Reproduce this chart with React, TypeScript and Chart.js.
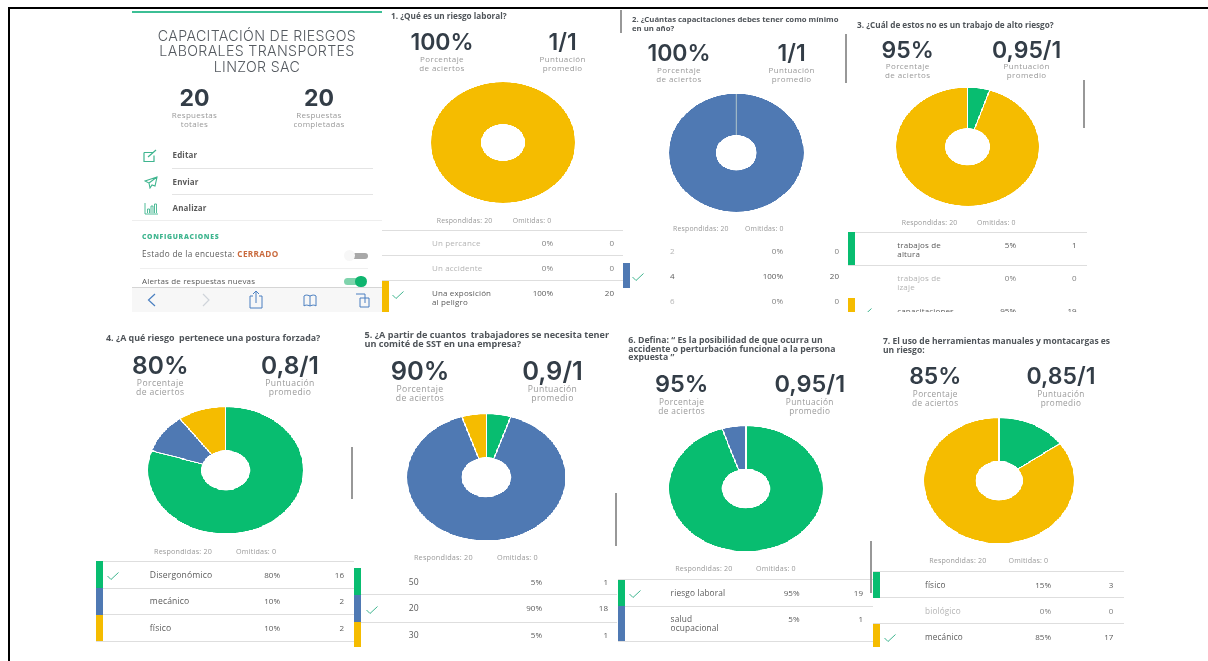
import React, { useEffect, useRef } from "react";
import { Chart, registerables } from "chart.js";

Chart.register(...registerables);

const GREEN = "#08bd70";
const BLUE = "#4f79b3";
const YELLOW = "#f5bc00";
const SLOT_COLORS = [GREEN, BLUE, YELLOW];

const SURVEY_TITLE = ["CAPACITACIÓN DE RIESGOS", "LABORALES TRANSPORTES", "LINZOR SAC"];
const TOTAL_RESPONSES = "20";
const COMPLETED_RESPONSES = "20";

const questionTitles = [
  ["1. ¿Qué es un riesgo laboral?"],
  ["2. ¿Cuántas capacitaciones debes tener como mínimo", "en un año?"],
  ["3. ¿Cuál de estos no es un trabajo de alto riesgo?"],
  ["4. ¿A qué riesgo  pertenece una postura forzada?"],
  ["5. ¿A partir de cuantos  trabajadores se necesita tener", "un comité de SST en una empresa?"],
  ["6. Defina: “ Es la posibilidad de que ocurra un", "accidente o perturbación funcional a la persona", "expuesta ”"],
  ["7. El uso de herramientas manuales y montacargas es", "un riesgo:"],
];
const correctRates = ["100%", "100%", "95%", "80%", "90%", "95%", "85%"];
const averageScores = ["1/1", "1/1", "0,95/1", "0,8/1", "0,9/1", "0,95/1", "0,85/1"];

const rowLabels = [
  ["Un percance", "Un accidente", "Una exposición\nal peligro"],
  ["2", "4", "6"],
  ["trabajos de\naltura", "trabajos de\nizaje", "capacitaciones"],
  ["Disergonómico", "mecánico", "físico"],
  ["50", "20", "30"],
  ["riesgo laboral", "salud\nocupacional"],
  ["físico", "biológico", "mecánico"],
];
const rowPercents = [
  ["0%", "0%", "100%"],
  ["0%", "100%", "0%"],
  ["5%", "0%", "95%"],
  ["80%", "10%", "10%"],
  ["5%", "90%", "5%"],
  ["95%", "5%"],
  ["15%", "0%", "85%"],
];
const rowCounts = [
  [0, 0, 20],
  [0, 20, 0],
  [1, 0, 19],
  [16, 2, 2],
  [1, 18, 1],
  [19, 1],
  [3, 0, 17],
];
const correctRow = [2, 1, 2, 0, 1, 0, 2];
const seamCharts = [1];

// Placement of each panel on the page.
const layout = [
  { ts: 8.2, bs: 23, ss: 8, rs: 6.9, cx: 503, cy: 142.7, rx: 72, ry: 60.5, tx: 391, ty: [16], px: 442, sx: 562.7, sy: 42, ly: 59, ry0: 220.5, rx0: 436.7, ox: 512.7, edges: [230, 255.5, 281, 312], rows: [243.3, 268.3, 293], lines: [230.5, 255.5, 280.5], lx1: 382, lx2: 623, lab: 432, pr: 553, cr: 614, bx: 382, ck: 398 },
  { ts: 7.75, bs: 23, ss: 8, rs: 6.9, cx: 736, cy: 152.5, rx: 67.3, ry: 58.8, tx: 632, ty: [20, 28.5], px: 679, sx: 791.7, sy: 53, ly: 70, ry0: 228.7, rx0: 673, ox: 745, edges: [238, 263, 288, 313], rows: [250.5, 275.5, 300.5], lines: [], lx1: 623, lx2: 840, lab: 670, pr: 783, cr: 839, bx: 623, ck: 638 },
  { ts: 8.2, bs: 23, ss: 8, rs: 6.9, cx: 967.3, cy: 147, rx: 71.3, ry: 58.8, tx: 857, ty: [24.5], px: 907.7, sx: 1026.7, sy: 49.5, ly: 66, ry0: 222.7, rx0: 901.7, ox: 977, edges: [232, 265, 298, 312], rows: [244.5, 277.5, 310.5], lines: [232.5, 265], lx1: 848, lx2: 1087, lab: 897.3, pr: 1016, cr: 1076.7, bx: 848, ck: 866 },
  { ts: 8.9, bs: 24.5, ss: 8.6, rs: 7.2, cx: 225.6, cy: 470.2, rx: 77.4, ry: 63.2, tx: 106, ty: [338.3], px: 160.3, sx: 290, sy: 365, ly: 382.7, ry0: 551.7, rx0: 154, ox: 236, edges: [561.3, 588, 614.7, 641.3], rows: [574.7, 601.3, 628], lines: [561.3, 588, 614.7, 641.3], lx1: 96, lx2: 354, lab: 149.8, pr: 280, cr: 344, bx: 96, ck: 113 },
  { ts: 9.1, bs: 25.5, ss: 8.6, rs: 7.3, cx: 486.5, cy: 476.8, rx: 79, ry: 63.2, tx: 364.5, ty: [335, 344.3], px: 420, sx: 552.5, sy: 370.7, ly: 388.7, ry0: 558.3, rx0: 413.9, ox: 497, edges: [568.3, 594.7, 622, 647], rows: [581.7, 608.3, 635.3], lines: [594.7, 622], lx1: 354, lx2: 617, lab: 408.8, pr: 542, cr: 608, bx: 354, ck: 371.6 },
  { ts: 8.7, bs: 23.5, ss: 8.3, rs: 7.1, cx: 745.8, cy: 488.8, rx: 76.7, ry: 62.5, tx: 628.3, ty: [339.7, 348.7, 357.3], px: 681.7, sx: 809.8, sy: 384.3, ly: 401.7, ry0: 569.3, rx0: 675.2, ox: 756, edges: [579.7, 606, 641.3], rows: [592.7, 619.3], lines: [579.3, 606, 641.3], lx1: 618, lx2: 873, lab: 670.6, pr: 799.5, cr: 863, bx: 618, ck: 634.8 },
  { ts: 8.5, bs: 23, ss: 8.2, rs: 7.1, cx: 998.6, cy: 480.7, rx: 74.8, ry: 62.5, tx: 883, ty: [340.7, 349.7], px: 935.3, sx: 1061, sy: 376, ly: 393.7, ry0: 561.3, rx0: 929.2, ox: 1008.5, edges: [571.5, 597.5, 623.5, 647], rows: [584.7, 610.7, 636.7], lines: [571.3, 597.3, 623.3], lx1: 873, lx2: 1124, lab: 925, pr: 1051, cr: 1113.4, bx: 873, ck: 890 },
];

const scrollMarks = [
  [621.3, 10, 33],
  [846, 34, 83],
  [1084, 80, 128],
  [352, 447, 499],
  [616, 493, 546],
  [871, 541, 593],
];

const DARK = "#333d47";
const GREY = "#9a9a9a";
const TEXT = "#5a5a5a";
const MUTED = "#b4b4b4";
const NUM_MUTED = "#808080";
const FONT = "'Open Sans', sans-serif";
const HEAD = "Inter, 'Open Sans', sans-serif";

type TProps = { x: number; y: number; a?: "l" | "c" | "r"; s: number; w?: number; c?: string; f?: string; ls?: number; children: React.ReactNode };
function T({ x, y, a = "l", s, w = 400, c = TEXT, f = FONT, ls = 0, children }: TProps) {
  const tr = a === "l" ? "translateY(-50%)" : a === "c" ? "translate(-50%,-50%)" : "translate(-100%,-50%)";
  return (
    <div style={{ position: "absolute", left: x, top: y, transform: tr, fontSize: s, fontWeight: w, color: c, fontFamily: f, letterSpacing: ls, whiteSpace: "pre", lineHeight: 1 }}>
      {children}
    </div>
  );
}

function Box({ x, y, w, h, c, r = 0 }: { x: number; y: number; w: number; h: number; c: string; r?: number }) {
  return <div style={{ position: "absolute", left: x, top: y, width: w, height: h, background: c, borderRadius: r }} />;
}

const SIZE = 240;
const BW = 2;

const seamPlugin = {
  id: "seam",
  afterDatasetsDraw(chart: any) {
    if (!chart.options.plugins.seam?.show) return;
    const arc = chart.getDatasetMeta(0).data.find((d: any) => d.circumference > 0);
    if (!arc) return;
    const { ctx } = chart;
    const a = arc.startAngle;
    ctx.save();
    ctx.strokeStyle = "#9db6c6";
    ctx.lineWidth = 2.5;
    ctx.beginPath();
    ctx.moveTo(arc.x + Math.cos(a) * arc.innerRadius, arc.y + Math.sin(a) * arc.innerRadius);
    ctx.lineTo(arc.x + Math.cos(a) * arc.outerRadius, arc.y + Math.sin(a) * arc.outerRadius);
    ctx.stroke();
    ctx.restore();
  },
};

function Donut({ index }: { index: number }) {
  const ref = useRef<HTMLCanvasElement>(null);
  const p = layout[index];
  const values = rowCounts[index];
  const nonZero = values.filter((v) => v > 0).length;
  useEffect(() => {
    const chart = new Chart(ref.current!, {
      type: "doughnut",
      data: {
        labels: rowLabels[index],
        datasets: [{
          data: values,
          backgroundColor: SLOT_COLORS.slice(0, values.length),
          borderColor: "#ffffff",
          borderWidth: nonZero > 1 ? BW : 0,
        }],
      },
      options: {
        animation: false,
        responsive: false,
        cutout: "30.5%",
        plugins: { legend: { display: false }, tooltip: { enabled: false }, seam: { show: seamCharts.includes(index) } } as any,
      },
      plugins: [seamPlugin],
    });
    return () => chart.destroy();
  }, []);
  const vis = SIZE / 2 - (nonZero > 1 ? BW : 0);
  const sx = p.rx / vis;
  const sy = p.ry / vis;
  return (
    <div style={{ position: "absolute", left: p.cx - (SIZE / 2) * sx, top: p.cy - (SIZE / 2) * sy, width: SIZE, height: SIZE, transform: `scale(${sx},${sy})`, transformOrigin: "0 0" }}>
      <canvas ref={ref} width={SIZE} height={SIZE} />
    </div>
  );
}

function Check({ x, y }: { x: number; y: number }) {
  return (
    <svg style={{ position: "absolute", left: x - 6, top: y - 5 }} width={12} height={10} viewBox="0 0 12 10">
      <polyline points="0.5,5 4,8.5 11.5,1.5" fill="none" stroke="#3fb58f" strokeWidth={1} />
    </svg>
  );
}

function Panel({ i }: { i: number }) {
  const p = layout[i];
  return (
    <>
      {questionTitles[i].map((l, k) => (
        <T key={k} x={p.tx} y={p.ty[k]} s={p.ts} w={700} c="#4f5459">{l}</T>
      ))}
      <T x={p.px} y={p.sy} a="c" s={p.bs} w={600} c={DARK} f={HEAD}>{correctRates[i]}</T>
      <T x={p.sx} y={p.sy} a="c" s={p.bs} w={600} c={DARK} f={HEAD}>{averageScores[i]}</T>
      <T x={p.px} y={p.ly} a="c" s={p.ss} c={GREY} ls={0.4}>Porcentaje</T>
      <T x={p.px} y={p.ly + 9} a="c" s={p.ss} c={GREY} ls={0.4}>de aciertos</T>
      <T x={p.sx} y={p.ly} a="c" s={p.ss} c={GREY} ls={0.4}>Puntuación</T>
      <T x={p.sx} y={p.ly + 9} a="c" s={p.ss} c={GREY} ls={0.4}>promedio</T>
      <Donut index={i} />
      <T x={p.rx0} y={p.ry0} s={p.rs} c={GREY} ls={0.2}>Respondidas: 20</T>
      <T x={p.ox} y={p.ry0} s={p.rs} c={GREY} ls={0.2}>Omitidas: 0</T>
      {p.lines.map((ly, k) => (
        <Box key={k} x={p.lx1} y={ly - 0.5} w={p.lx2 - p.lx1} h={1} c="#dedede" />
      ))}
      {rowLabels[i].map((label, k) => {
        const n = rowCounts[i][k];
        const col = n === 0 ? MUTED : TEXT;
        const numCol = n === 0 ? NUM_MUTED : TEXT;
        return (
          <React.Fragment key={k}>
            {n > 0 && <Box x={p.bx} y={p.edges[k]} w={6.5} h={p.edges[k + 1] - p.edges[k]} c={SLOT_COLORS[k]} />}
            {k === correctRow[i] && <Check x={p.ck} y={p.rows[k] + (label.includes("\n") ? 2 : 1.5)} />}
            {label.split("\n").map((t, m) => (
              <T key={m} x={p.lab} y={p.rows[k] + m * 9} s={p.ss} c={col} ls={0.15}>{t}</T>
            ))}
            <T x={p.pr} y={p.rows[k]} a="r" s={8} c={numCol}>{rowPercents[i][k]}</T>
            <T x={p.cr} y={p.rows[k]} a="r" s={8} c={numCol}>{n}</T>
          </React.Fragment>
        );
      })}
    </>
  );
}

const ICON = "#3fb58f";
const TOOL = "#4a7fc0";

function Overview() {
  return (
    <>
      <Box x={132} y={11} w={250} h={1.5} c="#3cbf95" />
      {SURVEY_TITLE.map((l, k) => (
        <T key={k} x={257} y={35.5 + k * 15.8} a="c" s={14.2} w={300} c="#555a60" f={HEAD} ls={0.35}>{l}</T>
      ))}
      <T x={194.5} y={97.5} a="c" s={23} w={700} c={DARK} f={HEAD}>{TOTAL_RESPONSES}</T>
      <T x={319} y={97.5} a="c" s={23} w={700} c={DARK} f={HEAD}>{COMPLETED_RESPONSES}</T>
      <T x={194.5} y={115} a="c" s={8} c={GREY} ls={0.3}>Respuestas</T>
      <T x={194.5} y={124} a="c" s={8} c={GREY} ls={0.3}>totales</T>
      <T x={319} y={115} a="c" s={8} c={GREY} ls={0.3}>Respuestas</T>
      <T x={319} y={124} a="c" s={8} c={GREY} ls={0.3}>completadas</T>

      <svg style={{ position: "absolute", left: 143, top: 149 }} width={16} height={14} viewBox="0 0 16 14">
        <path d="M1 3.5h9M1 3.5v9h10v-6M5 8l8-7" fill="none" stroke={ICON} strokeWidth={1.2} />
      </svg>
      <T x={172.5} y={155} s={8} w={700} c={TEXT} ls={0.15}>Editar</T>
      <Box x={172} y={168} w={201} h={1} c="#e4e4e4" />
      <svg style={{ position: "absolute", left: 144, top: 176 }} width={14} height={13} viewBox="0 0 14 13">
        <path d="M13 1L1 5l4 2 1 5 2-3 3 1zM5 7l8-6" fill="none" stroke={ICON} strokeWidth={1.1} />
      </svg>
      <T x={172.5} y={182} s={8} w={700} c={TEXT} ls={0.15}>Enviar</T>
      <Box x={172} y={194} w={201} h={1} c="#e4e4e4" />
      <svg style={{ position: "absolute", left: 144, top: 203 }} width={14} height={12} viewBox="0 0 14 12">
        <path d="M1 0v11h13M3.5 10V6h2v4M7 10V3h2v7M10.500 10V1h2v9" fill="none" stroke={ICON} strokeWidth={0.9} />
      </svg>
      <T x={172.5} y={208} s={8} w={700} c={TEXT} ls={0.15}>Analizar</T>
      <Box x={132} y={220} w={250} h={1} c="#eeeeee" />

      <T x={142} y={237} s={6.8} w={800} c="#3fb58f" ls={0.7}>CONFIGURACIONES</T>
      <div style={{ position: "absolute", left: 142, top: 254, transform: "translateY(-50%)", fontFamily: FONT, fontSize: 8.2, color: TEXT, lineHeight: 1, whiteSpace: "pre", letterSpacing: 0.35 }}>
        Estado de la encuesta: <span style={{ color: "#c9693c", fontWeight: 700 }}>CERRADO</span>
      </div>
      <Box x={347} y={252.5} w={21} h={6} c="#a8a8a8" r={3} />
      <Box x={344} y={250} w={11} h={11} c="#f7f7f7" r={6} />
      <Box x={140} y={268} w={228} h={1} c="#efefef" />
      <T x={142} y={281} s={8} c={TEXT} ls={0.15}>Alertas de respuestas nuevas</T>
      <Box x={344} y={278} w={21} h={7} c="#7fd3ac" r={3.5} />
      <Box x={355} y={276} w={12} h={11} c="#0fb56f" r={6} />

      <Box x={132} y={287} w={250} h={25} c="#f7f7f7" />
      <Box x={132} y={286.5} w={250} h={1} c="#d5d5d5" />
      <svg style={{ position: "absolute", left: 132, top: 287 }} width={250} height={25} viewBox="0 0 250 25">
        <path d="M23 7l-6.500 6 6.500 6" fill="none" stroke={TOOL} strokeWidth={1.2} />
        <path d="M71 7l6 6-6 6" fill="none" stroke="#cfd4da" strokeWidth={1.2} />
        <path d="M121 9h-3v12h12V9h-3M124 16V4M121 7l3-3 3 3" fill="none" stroke={TOOL} strokeWidth={1} />
        <path d="M178 9c-3-1.500-5-1-6 0v10c1-1 3-1.500 6 0 3-1.500 5-1 6 0V9c-1-1-3-1.500-6 0zM178 9v10" fill="none" stroke={TOOL} strokeWidth={1} />
        <path d="M224 7h9v9M228 11h9v9h-9z" fill="none" stroke={TOOL} strokeWidth={1} />
      </svg>
    </>
  );
}

export default function App() {
  return (
    <div style={{ position: "absolute", left: 0, top: 0, width: 1208, height: 661, overflow: "hidden", background: "#fff" }}>
      <div style={{ position: "absolute", inset: 0, filter: "blur(0.35px)" }}>
        {layout.map((_, i) => (
          <Panel key={i} i={i} />
        ))}
        {scrollMarks.map(([x, y1, y2], k) => (
          <Box key={k} x={x - 1} y={y1} w={2} h={y2 - y1} c="#989898" />
        ))}
        <Box x={382} y={312} w={720} h={15} c="#ffffff" />
        <Overview />
      </div>
      <Box x={8} y={7} w={2} h={654} c="#000" />
      <Box x={8} y={7} w={1200} h={2} c="#000" />
    </div>
  );
}
